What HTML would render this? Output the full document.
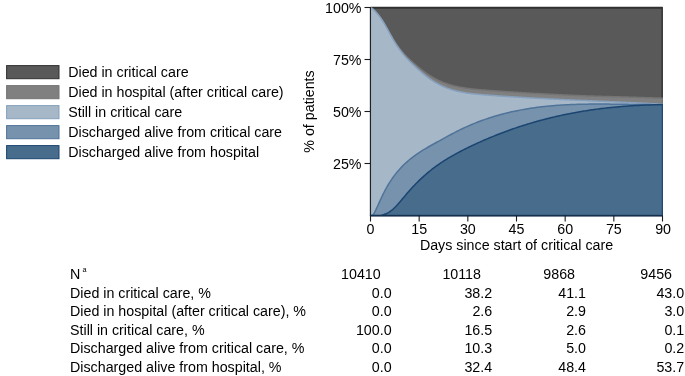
<!DOCTYPE html>
<html><head><meta charset="utf-8"><title>Patient outcomes</title>
<style>
html,body{margin:0;padding:0;background:#fff;}
svg{display:block;will-change:transform;}
text{font-family:"Liberation Sans",sans-serif;font-size:14.25px;fill:#000;}
</style></head><body>
<svg width="685" height="376" viewBox="0 0 685 376">
<rect width="685" height="376" fill="#fff"/>
<defs><clipPath id="pc"><rect x="370.3" y="0" width="292.6" height="216.4"/></clipPath></defs>
<g clip-path="url(#pc)">
<path d="M370.50,7.80 L662.50,7.80 L662.50,215.50 L370.50,215.50Z" fill="#595959" stroke="#303030" stroke-width="2" stroke-linejoin="round"/>
<path d="M370.50,8.10 L371.83,8.36 L373.17,9.38 L374.50,10.56 L375.83,11.90 L377.17,13.37 L378.50,14.99 L379.83,16.74 L381.17,18.62 L382.50,20.62 L383.83,22.73 L385.17,24.95 L386.50,27.26 L387.83,29.63 L389.17,32.03 L390.50,34.41 L391.83,36.73 L393.17,38.97 L394.50,41.13 L395.83,43.19 L397.17,45.16 L398.50,47.03 L399.83,48.80 L401.17,50.49 L402.50,52.08 L403.83,53.58 L405.17,55.02 L406.50,56.39 L407.83,57.70 L409.17,58.97 L410.50,60.20 L411.83,61.40 L413.17,62.58 L414.50,63.73 L415.83,64.87 L417.17,65.99 L418.50,67.09 L419.83,68.18 L421.17,69.24 L422.50,70.28 L423.83,71.30 L425.17,72.29 L426.50,73.25 L427.83,74.18 L429.17,75.08 L430.50,75.94 L431.83,76.77 L433.17,77.56 L434.50,78.31 L435.83,79.03 L437.17,79.72 L438.50,80.37 L439.83,80.99 L441.17,81.56 L442.50,82.11 L443.83,82.62 L445.17,83.10 L446.50,83.56 L447.83,84.00 L449.17,84.42 L450.50,84.84 L451.83,85.23 L453.17,85.60 L454.50,85.95 L455.83,86.27 L457.17,86.58 L458.50,86.86 L459.83,87.12 L461.17,87.36 L462.50,87.59 L463.83,87.79 L465.17,87.99 L466.50,88.19 L467.83,88.38 L469.17,88.56 L470.50,88.73 L471.83,88.89 L473.17,89.04 L474.50,89.18 L475.83,89.31 L477.17,89.44 L478.50,89.56 L479.83,89.67 L481.17,89.78 L482.50,89.89 L483.83,90.00 L485.17,90.10 L486.50,90.20 L487.83,90.31 L489.17,90.41 L490.50,90.51 L491.83,90.61 L493.17,90.71 L494.50,90.80 L495.83,90.90 L497.17,90.99 L498.50,91.09 L499.83,91.18 L501.17,91.27 L502.50,91.36 L503.83,91.46 L505.17,91.55 L506.50,91.64 L507.83,91.73 L509.17,91.81 L510.50,91.90 L511.83,91.99 L513.17,92.08 L514.50,92.16 L515.83,92.25 L517.17,92.33 L518.50,92.42 L519.83,92.50 L521.17,92.58 L522.50,92.67 L523.83,92.75 L525.17,92.83 L526.50,92.91 L527.83,92.99 L529.17,93.07 L530.50,93.15 L531.83,93.23 L533.17,93.30 L534.50,93.38 L535.83,93.45 L537.17,93.53 L538.50,93.60 L539.83,93.68 L541.17,93.75 L542.50,93.82 L543.83,93.89 L545.17,93.96 L546.50,94.03 L547.83,94.10 L549.17,94.17 L550.50,94.24 L551.83,94.31 L553.17,94.37 L554.50,94.44 L555.83,94.50 L557.17,94.57 L558.50,94.63 L559.83,94.70 L561.17,94.76 L562.50,94.82 L563.83,94.89 L565.17,94.95 L566.50,95.01 L567.83,95.07 L569.17,95.13 L570.50,95.19 L571.83,95.25 L573.17,95.32 L574.50,95.38 L575.83,95.44 L577.17,95.50 L578.50,95.56 L579.83,95.62 L581.17,95.67 L582.50,95.73 L583.83,95.79 L585.17,95.84 L586.50,95.89 L587.83,95.94 L589.17,95.98 L590.50,96.03 L591.83,96.07 L593.17,96.12 L594.50,96.16 L595.83,96.20 L597.17,96.24 L598.50,96.28 L599.83,96.32 L601.17,96.35 L602.50,96.39 L603.83,96.43 L605.17,96.46 L606.50,96.50 L607.83,96.54 L609.17,96.57 L610.50,96.61 L611.83,96.64 L613.17,96.68 L614.50,96.72 L615.83,96.76 L617.17,96.79 L618.50,96.83 L619.83,96.87 L621.17,96.91 L622.50,96.95 L623.83,96.99 L625.17,97.03 L626.50,97.07 L627.83,97.11 L629.17,97.15 L630.50,97.19 L631.83,97.23 L633.17,97.27 L634.50,97.31 L635.83,97.35 L637.17,97.39 L638.50,97.43 L639.83,97.47 L641.17,97.52 L642.50,97.56 L643.83,97.60 L645.17,97.64 L646.50,97.68 L647.83,97.72 L649.17,97.76 L650.50,97.81 L651.83,97.85 L653.17,97.89 L654.50,97.93 L655.83,97.98 L657.17,98.02 L658.50,98.07 L659.83,98.11 L661.17,98.16 L662.50,98.20 L662.50,215.50 L370.50,215.50Z" fill="#808080" stroke="#747474" stroke-width="1.5" stroke-linejoin="round"/>
<path d="M370.50,8.10 L371.83,8.36 L373.17,9.39 L374.50,10.58 L375.83,11.93 L377.17,13.43 L378.50,15.06 L379.83,16.84 L381.17,18.74 L382.50,20.76 L383.83,22.90 L385.17,25.15 L386.50,27.50 L387.83,29.92 L389.17,32.37 L390.50,34.82 L391.83,37.21 L393.17,39.53 L394.50,41.77 L395.83,43.92 L397.17,45.97 L398.50,47.93 L399.83,49.79 L401.17,51.57 L402.50,53.25 L403.83,54.87 L405.17,56.41 L406.50,57.89 L407.83,59.32 L409.17,60.70 L410.50,62.04 L411.83,63.35 L413.17,64.63 L414.50,65.90 L415.83,67.15 L417.17,68.38 L418.50,69.59 L419.83,70.78 L421.17,71.94 L422.50,73.08 L423.83,74.19 L425.17,75.28 L426.50,76.33 L427.83,77.35 L429.17,78.34 L430.50,79.29 L431.83,80.20 L433.17,81.07 L434.50,81.90 L435.83,82.70 L437.17,83.46 L438.50,84.19 L439.83,84.88 L441.17,85.53 L442.50,86.16 L443.83,86.75 L445.17,87.31 L446.50,87.85 L447.83,88.35 L449.17,88.83 L450.50,89.28 L451.83,89.71 L453.17,90.11 L454.50,90.49 L455.83,90.84 L457.17,91.17 L458.50,91.49 L459.83,91.78 L461.17,92.05 L462.50,92.31 L463.83,92.55 L465.17,92.77 L466.50,92.98 L467.83,93.18 L469.17,93.36 L470.50,93.53 L471.83,93.69 L473.17,93.84 L474.50,93.98 L475.83,94.11 L477.17,94.24 L478.50,94.36 L479.83,94.47 L481.17,94.58 L482.50,94.69 L483.83,94.80 L485.17,94.90 L486.50,95.00 L487.83,95.11 L489.17,95.21 L490.50,95.31 L491.83,95.41 L493.17,95.51 L494.50,95.60 L495.83,95.70 L497.17,95.79 L498.50,95.89 L499.83,95.98 L501.17,96.07 L502.50,96.16 L503.83,96.25 L505.17,96.34 L506.50,96.43 L507.83,96.52 L509.17,96.61 L510.50,96.69 L511.83,96.78 L513.17,96.86 L514.50,96.95 L515.83,97.03 L517.17,97.11 L518.50,97.19 L519.83,97.27 L521.17,97.35 L522.50,97.43 L523.83,97.51 L525.17,97.59 L526.50,97.66 L527.83,97.74 L529.17,97.81 L530.50,97.89 L531.83,97.96 L533.17,98.04 L534.50,98.11 L535.83,98.18 L537.17,98.25 L538.50,98.33 L539.83,98.40 L541.17,98.47 L542.50,98.54 L543.83,98.60 L545.17,98.67 L546.50,98.74 L547.83,98.81 L549.17,98.88 L550.50,98.94 L551.83,99.01 L553.17,99.07 L554.50,99.14 L555.83,99.20 L557.17,99.27 L558.50,99.33 L559.83,99.40 L561.17,99.46 L562.50,99.52 L563.83,99.59 L565.17,99.65 L566.50,99.71 L567.83,99.77 L569.17,99.83 L570.50,99.89 L571.83,99.95 L573.17,100.02 L574.50,100.08 L575.83,100.14 L577.17,100.20 L578.50,100.26 L579.83,100.32 L581.17,100.38 L582.50,100.43 L583.83,100.49 L585.17,100.55 L586.50,100.61 L587.83,100.67 L589.17,100.73 L590.50,100.79 L591.83,100.85 L593.17,100.91 L594.50,100.96 L595.83,101.02 L597.17,101.08 L598.50,101.14 L599.83,101.20 L601.17,101.26 L602.50,101.32 L603.83,101.37 L605.17,101.43 L606.50,101.49 L607.83,101.55 L609.17,101.61 L610.50,101.67 L611.83,101.73 L613.17,101.79 L614.50,101.85 L615.83,101.91 L617.17,101.97 L618.50,102.03 L619.83,102.09 L621.17,102.15 L622.50,102.21 L623.83,102.27 L625.17,102.33 L626.50,102.39 L627.83,102.45 L629.17,102.51 L630.50,102.58 L631.83,102.64 L633.17,102.70 L634.50,102.77 L635.83,102.83 L637.17,102.89 L638.50,102.96 L639.83,103.02 L641.17,103.09 L642.50,103.15 L643.83,103.22 L645.17,103.29 L646.50,103.35 L647.83,103.42 L649.17,103.49 L650.50,103.56 L651.83,103.63 L653.17,103.70 L654.50,103.77 L655.83,103.84 L657.17,103.91 L658.50,103.98 L659.83,104.05 L661.17,104.13 L662.50,104.20 L662.50,215.50 L370.50,215.50Z" fill="#a6b7c8" stroke="#86a0bd" stroke-width="1.5" stroke-linejoin="round"/>
<path d="M370.50,215.49 L371.83,215.50 L373.17,214.70 L374.50,212.63 L375.83,209.93 L377.17,206.99 L378.50,204.03 L379.83,201.09 L381.17,198.22 L382.50,195.42 L383.83,192.74 L385.17,190.19 L386.50,187.75 L387.83,185.43 L389.17,183.22 L390.50,181.11 L391.83,179.11 L393.17,177.20 L394.50,175.38 L395.83,173.65 L397.17,172.00 L398.50,170.43 L399.83,168.93 L401.17,167.49 L402.50,166.12 L403.83,164.81 L405.17,163.54 L406.50,162.33 L407.83,161.16 L409.17,160.03 L410.50,158.93 L411.83,157.88 L413.17,156.85 L414.50,155.86 L415.83,154.89 L417.17,153.96 L418.50,153.05 L419.83,152.16 L421.17,151.30 L422.50,150.46 L423.83,149.64 L425.17,148.83 L426.50,148.04 L427.83,147.26 L429.17,146.50 L430.50,145.74 L431.83,144.99 L433.17,144.25 L434.50,143.51 L435.83,142.77 L437.17,142.03 L438.50,141.30 L439.83,140.56 L441.17,139.82 L442.50,139.09 L443.83,138.35 L445.17,137.62 L446.50,136.89 L447.83,136.17 L449.17,135.45 L450.50,134.74 L451.83,134.03 L453.17,133.33 L454.50,132.63 L455.83,131.95 L457.17,131.27 L458.50,130.60 L459.83,129.94 L461.17,129.29 L462.50,128.66 L463.83,128.03 L465.17,127.41 L466.50,126.81 L467.83,126.21 L469.17,125.63 L470.50,125.05 L471.83,124.48 L473.17,123.93 L474.50,123.38 L475.83,122.85 L477.17,122.32 L478.50,121.81 L479.83,121.30 L481.17,120.80 L482.50,120.32 L483.83,119.84 L485.17,119.37 L486.50,118.91 L487.83,118.46 L489.17,118.02 L490.50,117.58 L491.83,117.16 L493.17,116.74 L494.50,116.34 L495.83,115.94 L497.17,115.55 L498.50,115.17 L499.83,114.79 L501.17,114.43 L502.50,114.07 L503.83,113.72 L505.17,113.38 L506.50,113.05 L507.83,112.72 L509.17,112.40 L510.50,112.09 L511.83,111.79 L513.17,111.50 L514.50,111.21 L515.83,110.93 L517.17,110.65 L518.50,110.39 L519.83,110.13 L521.17,109.88 L522.50,109.63 L523.83,109.39 L525.17,109.16 L526.50,108.93 L527.83,108.71 L529.17,108.50 L530.50,108.29 L531.83,108.09 L533.17,107.90 L534.50,107.71 L535.83,107.53 L537.17,107.35 L538.50,107.18 L539.83,107.01 L541.17,106.85 L542.50,106.70 L543.83,106.55 L545.17,106.41 L546.50,106.27 L547.83,106.14 L549.17,106.01 L550.50,105.89 L551.83,105.77 L553.17,105.66 L554.50,105.55 L555.83,105.44 L557.17,105.34 L558.50,105.25 L559.83,105.16 L561.17,105.07 L562.50,104.99 L563.83,104.91 L565.17,104.84 L566.50,104.77 L567.83,104.71 L569.17,104.64 L570.50,104.59 L571.83,104.53 L573.17,104.48 L574.50,104.43 L575.83,104.39 L577.17,104.35 L578.50,104.31 L579.83,104.27 L581.17,104.24 L582.50,104.21 L583.83,104.19 L585.17,104.17 L586.50,104.14 L587.83,104.13 L589.17,104.11 L590.50,104.10 L591.83,104.09 L593.17,104.08 L594.50,104.07 L595.83,104.07 L597.17,104.07 L598.50,104.07 L599.83,104.07 L601.17,104.07 L602.50,104.08 L603.83,104.08 L605.17,104.09 L606.50,104.10 L607.83,104.11 L609.17,104.12 L610.50,104.14 L611.83,104.15 L613.17,104.17 L614.50,104.18 L615.83,104.20 L617.17,104.22 L618.50,104.23 L619.83,104.25 L621.17,104.27 L622.50,104.29 L623.83,104.31 L625.17,104.33 L626.50,104.35 L627.83,104.37 L629.17,104.39 L630.50,104.41 L631.83,104.43 L633.17,104.45 L634.50,104.46 L635.83,104.48 L637.17,104.50 L638.50,104.52 L639.83,104.53 L641.17,104.55 L642.50,104.56 L643.83,104.57 L645.17,104.59 L646.50,104.60 L647.83,104.61 L649.17,104.61 L650.50,104.62 L651.83,104.63 L653.17,104.63 L654.50,104.63 L655.83,104.63 L657.17,104.63 L658.50,104.62 L659.83,104.62 L661.17,104.61 L662.50,104.60 L662.50,215.50 L370.50,215.50Z" fill="#7792ad" stroke="#4f7399" stroke-width="1.5" stroke-linejoin="round"/>
<path d="M370.50,215.49 L371.83,215.50 L373.17,215.50 L374.50,215.50 L375.83,215.50 L377.17,215.50 L378.50,215.50 L379.83,215.38 L381.17,215.17 L382.50,214.89 L383.83,214.52 L385.17,214.07 L386.50,213.52 L387.83,212.86 L389.17,212.10 L390.50,211.21 L391.83,210.20 L393.17,209.06 L394.50,207.80 L395.83,206.46 L397.17,205.03 L398.50,203.53 L399.83,201.99 L401.17,200.42 L402.50,198.83 L403.83,197.25 L405.17,195.67 L406.50,194.10 L407.83,192.55 L409.17,191.02 L410.50,189.52 L411.83,188.04 L413.17,186.60 L414.50,185.18 L415.83,183.80 L417.17,182.45 L418.50,181.13 L419.83,179.84 L421.17,178.58 L422.50,177.35 L423.83,176.14 L425.17,174.96 L426.50,173.81 L427.83,172.68 L429.17,171.58 L430.50,170.51 L431.83,169.46 L433.17,168.43 L434.50,167.42 L435.83,166.44 L437.17,165.47 L438.50,164.53 L439.83,163.61 L441.17,162.70 L442.50,161.82 L443.83,160.95 L445.17,160.10 L446.50,159.27 L447.83,158.45 L449.17,157.65 L450.50,156.86 L451.83,156.09 L453.17,155.33 L454.50,154.59 L455.83,153.85 L457.17,153.13 L458.50,152.42 L459.83,151.72 L461.17,151.03 L462.50,150.34 L463.83,149.67 L465.17,149.00 L466.50,148.34 L467.83,147.69 L469.17,147.04 L470.50,146.40 L471.83,145.76 L473.17,145.13 L474.50,144.51 L475.83,143.89 L477.17,143.27 L478.50,142.67 L479.83,142.06 L481.17,141.47 L482.50,140.88 L483.83,140.29 L485.17,139.71 L486.50,139.14 L487.83,138.57 L489.17,138.01 L490.50,137.46 L491.83,136.90 L493.17,136.36 L494.50,135.82 L495.83,135.28 L497.17,134.76 L498.50,134.23 L499.83,133.71 L501.17,133.20 L502.50,132.69 L503.83,132.19 L505.17,131.69 L506.50,131.20 L507.83,130.72 L509.17,130.24 L510.50,129.76 L511.83,129.29 L513.17,128.83 L514.50,128.37 L515.83,127.91 L517.17,127.46 L518.50,127.02 L519.83,126.58 L521.17,126.14 L522.50,125.71 L523.83,125.29 L525.17,124.87 L526.50,124.46 L527.83,124.05 L529.17,123.64 L530.50,123.24 L531.83,122.85 L533.17,122.46 L534.50,122.07 L535.83,121.69 L537.17,121.32 L538.50,120.95 L539.83,120.58 L541.17,120.22 L542.50,119.87 L543.83,119.52 L545.17,119.17 L546.50,118.83 L547.83,118.49 L549.17,118.16 L550.50,117.83 L551.83,117.51 L553.17,117.19 L554.50,116.88 L555.83,116.57 L557.17,116.26 L558.50,115.96 L559.83,115.67 L561.17,115.37 L562.50,115.09 L563.83,114.80 L565.17,114.53 L566.50,114.25 L567.83,113.98 L569.17,113.72 L570.50,113.46 L571.83,113.20 L573.17,112.95 L574.50,112.70 L575.83,112.46 L577.17,112.22 L578.50,111.98 L579.83,111.75 L581.17,111.52 L582.50,111.30 L583.83,111.08 L585.17,110.87 L586.50,110.66 L587.83,110.45 L589.17,110.25 L590.50,110.05 L591.83,109.85 L593.17,109.66 L594.50,109.48 L595.83,109.29 L597.17,109.12 L598.50,108.94 L599.83,108.77 L601.17,108.60 L602.50,108.44 L603.83,108.28 L605.17,108.12 L606.50,107.97 L607.83,107.82 L609.17,107.68 L610.50,107.54 L611.83,107.40 L613.17,107.27 L614.50,107.14 L615.83,107.01 L617.17,106.89 L618.50,106.77 L619.83,106.65 L621.17,106.54 L622.50,106.43 L623.83,106.33 L625.17,106.23 L626.50,106.13 L627.83,106.03 L629.17,105.94 L630.50,105.85 L631.83,105.77 L633.17,105.69 L634.50,105.61 L635.83,105.53 L637.17,105.46 L638.50,105.39 L639.83,105.33 L641.17,105.27 L642.50,105.21 L643.83,105.15 L645.17,105.10 L646.50,105.05 L647.83,105.01 L649.17,104.96 L650.50,104.92 L651.83,104.89 L653.17,104.85 L654.50,104.82 L655.83,104.79 L657.17,104.77 L658.50,104.75 L659.83,104.73 L661.17,104.71 L662.50,104.70 L662.50,215.50 L370.50,215.50Z" fill="#486c8c" stroke="#1a4570" stroke-width="1.5" stroke-linejoin="round"/>
</g>
<g stroke="#1c1c1c" stroke-width="1.1" fill="none"><path d="M370.4,6.95V216.1"/><path d="M369.9,215.6H662.9" stroke="#14304d"/><path d="M364.5,163.5H370.5"/><path d="M364.5,111.5H370.5"/><path d="M364.5,59.5H370.5"/><path d="M364.5,7.5H370.5"/><path d="M370.50,215.5V221.5"/><path d="M419.17,215.5V221.5"/><path d="M467.83,215.5V221.5"/><path d="M516.50,215.5V221.5"/><path d="M565.17,215.5V221.5"/><path d="M613.83,215.5V221.5"/><path d="M662.50,215.5V221.5"/></g>
<text x="361.5" y="168.5" text-anchor="end">25%</text><text x="361.5" y="116.5" text-anchor="end">50%</text><text x="361.5" y="64.5" text-anchor="end">75%</text><text x="361.5" y="12.5" text-anchor="end">100%</text><text x="370.50" y="234.3" text-anchor="middle">0</text><text x="419.17" y="234.3" text-anchor="middle">15</text><text x="467.83" y="234.3" text-anchor="middle">30</text><text x="516.50" y="234.3" text-anchor="middle">45</text><text x="565.17" y="234.3" text-anchor="middle">60</text><text x="613.83" y="234.3" text-anchor="middle">75</text><text x="663.10" y="234.3" text-anchor="middle">90</text><text x="516.5" y="250" text-anchor="middle">Days since start of critical care</text><text transform="translate(314,111.5) rotate(-90)" text-anchor="middle">% of patients</text>
<rect x="6.6" y="65.6" width="52.4" height="13.1" fill="#595959" stroke="#303030" stroke-width="1"/><text x="68.2" y="76.5">Died in critical care</text>
<rect x="6.6" y="85.6" width="52.4" height="13.1" fill="#808080" stroke="#747474" stroke-width="1"/><text x="68.2" y="96.5">Died in hospital (after critical care)</text>
<rect x="6.6" y="105.6" width="52.4" height="13.1" fill="#a6b7c8" stroke="#86a0bd" stroke-width="1"/><text x="68.2" y="116.5">Still in critical care</text>
<rect x="6.6" y="125.6" width="52.4" height="13.1" fill="#7792ad" stroke="#4f7399" stroke-width="1"/><text x="68.2" y="136.5">Discharged alive from critical care</text>
<rect x="6.6" y="145.6" width="52.4" height="13.1" fill="#486c8c" stroke="#1a4570" stroke-width="1"/><text x="68.2" y="156.5">Discharged alive from hospital</text>
<text x="70" y="279">N</text><text x="82.6" y="272.1" style="font-size:7.3px">a</text><text x="360.9" y="279" text-anchor="middle">10410</text><text x="461.7" y="279" text-anchor="middle">10118</text><text x="559.2" y="279" text-anchor="middle">9868</text><text x="656.2" y="279" text-anchor="middle">9456</text>
<text x="70" y="297.5">Died in critical care, %</text><text x="391.6" y="297.5" text-anchor="end">0.0</text><text x="492.2" y="297.5" text-anchor="end">38.2</text><text x="586.0" y="297.5" text-anchor="end">41.1</text><text x="684.2" y="297.5" text-anchor="end">43.0</text>
<text x="70" y="316">Died in hospital (after critical care), %</text><text x="391.6" y="316" text-anchor="end">0.0</text><text x="492.2" y="316" text-anchor="end">2.6</text><text x="586.0" y="316" text-anchor="end">2.9</text><text x="684.2" y="316" text-anchor="end">3.0</text>
<text x="70" y="334.5">Still in critical care, %</text><text x="391.6" y="334.5" text-anchor="end">100.0</text><text x="492.2" y="334.5" text-anchor="end">16.5</text><text x="586.0" y="334.5" text-anchor="end">2.6</text><text x="684.2" y="334.5" text-anchor="end">0.1</text>
<text x="70" y="353">Discharged alive from critical care, %</text><text x="391.6" y="353" text-anchor="end">0.0</text><text x="492.2" y="353" text-anchor="end">10.3</text><text x="586.0" y="353" text-anchor="end">5.0</text><text x="684.2" y="353" text-anchor="end">0.2</text>
<text x="70" y="371.5">Discharged alive from hospital, %</text><text x="391.6" y="371.5" text-anchor="end">0.0</text><text x="492.2" y="371.5" text-anchor="end">32.4</text><text x="586.0" y="371.5" text-anchor="end">48.4</text><text x="684.2" y="371.5" text-anchor="end">53.7</text>
</svg></body></html>
